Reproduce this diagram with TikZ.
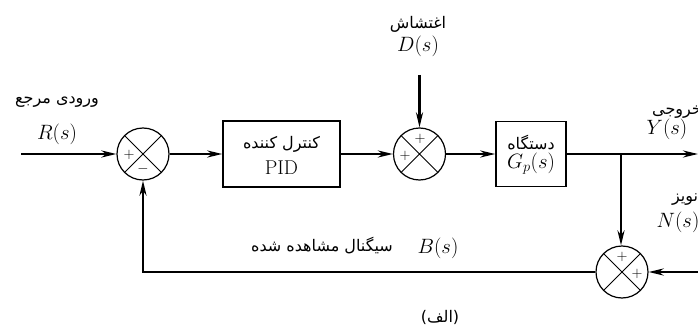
\documentclass[tikz,border=0pt]{standalone}
\usepackage{fontspec}
\usetikzlibrary{arrows.meta,calc}
\TeXXeTstate=1
\newfontfamily\fa[Script=Arabic]{DejaVu Sans}
\begin{document}
\begin{tikzpicture}[x=1pt,y=-1pt,
  sig/.style={line width=2.4pt},
  arr/.style={sig,-{Stealth[length=15pt,width=7pt]}},
  sumj/.style={circle,draw,line width=1.2pt,minimum size=52pt,inner sep=0pt,
    path picture={\draw[line width=1pt]
      (path picture bounding box.north west)--(path picture bounding box.south east)
      (path picture bounding box.north east)--(path picture bounding box.south west);}},
  blk/.style={draw,line width=1.5pt,inner sep=0pt},
  lbl/.style={font=\fontsize{20}{22}\selectfont,inner sep=0pt},
  falbl/.style={font=\fontsize{16}{18}\selectfont\fa,inner sep=0pt},
  sgn/.style={font=\fontsize{14}{14}\selectfont,inner sep=0pt}]
\clip (0,0) rectangle (698,326);
\fill[white] (0,0) rectangle (698,326);
% summing junctions
\node[sumj] (s1) at (143,154) {};
\node[sumj] (s2) at (419.5,154) {};
\node[sumj] (s3) at (622,272) {};
% signs
\node[sgn] (s1a) at (129,155) {$+$};
\node[sgn] (s1b) at (143,169) {$-$};
\node[sgn] (s2a) at (420,139) {$+$};
\node[sgn] (s2b) at (405,156) {$+$};
\node[sgn] (s3a) at (622,257) {$+$};
\node[sgn] (s3b) at (637,274) {$+$};
% blocks
\node[blk,minimum width=117pt,minimum height=66pt] (pid) at (281.5,154) {};
\node[blk,minimum width=70pt,minimum height=65pt] (plant) at (531,154) {};
\node[falbl] (pidt1) at (281.5,144) {\beginR کنترل کننده\endR};
\node[lbl] (pidt2) at (281.5,168) {PID};
\node[falbl] (plt1) at (531,143) {\beginR دستگاه\endR};
\node[lbl] (plt2) at (531,164) {$G_p(s)$};
% coordinates
\coordinate (rin) at (21,154);
\coordinate (din) at (419.5,75);
\coordinate (br) at (621,154);
\coordinate (yout) at (698,154);
\coordinate (nin) at (698,272);
\coordinate (fb) at (143,272);
% labels
\node[falbl] (rlab) at (57,102) {\beginR ورودی مرجع\endR};
\node[lbl] (rs) at (57,134) {$R(s)$};
\node[falbl] (dlab) at (418,24) {\beginR اغتشاش\endR};
\node[lbl] (ds) at (418,46) {$D(s)$};
\node[falbl] (ylab) at (677,112) {\beginR خروجی\endR};
\node[lbl] (ys) at (667,129) {$Y(s)$};
\node[falbl] (nlab) at (685,200) {\beginR نویز\endR};
\node[lbl] (ns) at (678,222) {$N(s)$};
\node[lbl] (bs) at (438,248) {$B(s)$};
\node[falbl] (blab) at (322,246) {\beginR سیگنال مشاهده شده\endR};
\node[falbl] (cap) at (440,317) {\beginR(الف)\endR};
% connectors
\draw[arr] (rin) -- (s1.west);
\draw[arr] (s1.east) -- (pid.west);
\draw[arr] (pid.east) -- (s2.west);
\draw[arr] (din) -- (s2.north);
\draw[arr] (s2.east) -- (plant.west);
\draw[arr] (plant.east) -- (yout);
\draw[arr] (br) -- (s3.north -| br);
\draw[arr] (nin) -- (s3.east);
\draw[arr] (s3.west) -- (fb) -- (s1.south);
\end{tikzpicture}
\end{document}
